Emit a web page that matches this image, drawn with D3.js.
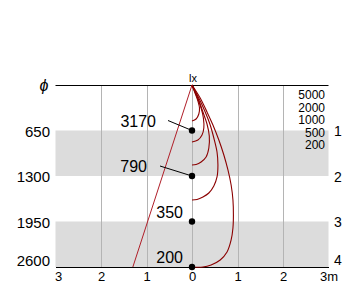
<!DOCTYPE html>
<html><head><meta charset="utf-8">
<script src="https://cdn.jsdelivr.net/npm/d3@7/dist/d3.min.js"></script>
<style>body{margin:0;background:#fff}svg{display:block;font-family:"Liberation Sans",Arial,sans-serif}</style>
</head><body><svg id="c" width="360" height="308"></svg>
<script>
// ---- data ----
const xTicks = [-3,-2,-1,0,1,2,3];
const xTickLabels = ["3","2","1","0","1","2","3m"];
const depthTicks = [650,1300,1950,2600];
const depthLabels = ["650","1300","1950","2600"];
const zoneLabels = ["1","2","3","4"];
const centerDepths = [650,1300,1950,2600];
const centerLux = [3170,790,350,200];
const luxLevels = [5000,2000,1000,500,200];
const coneEdge = [[0,0],[-1.3,2600]];
// isolux curves: [offset m, depth mm]
const curve5000 = [[0,0],[0.066,114],[0.13,229],[0.165,329],[0.15,414],[0.09,486],[0,514]];
const curve2000 = [[0,0],[0.11,171],[0.20,329],[0.25,471],[0.26,614],[0.22,714],[0.13,786],[0,814]];
const curve1000 = [[0,0],[0.13,186],[0.24,386],[0.33,557],[0.38,729],[0.37,900],[0.31,1029],[0.20,1100],[0.09,1136],[0,1143]];
const curve500 = [[0,0],[0.15,186],[0.29,386],[0.40,571],[0.48,757],[0.55,957],[0.57,1143],[0.55,1314],[0.48,1443],[0.37,1543],[0.24,1600],[0.11,1636],[0,1643]];
const curve200 = [[0,0],[0.18,186],[0.33,386],[0.46,571],[0.59,786],[0.70,1000],[0.79,1214],[0.86,1429],[0.90,1643],[0.91,1857],[0.90,2043],[0.86,2214],[0.77,2386],[0.62,2500],[0.42,2571],[0.24,2600],[0,2600]];
const curves = [curve5000,curve2000,curve1000,curve500,curve200];

// ---- chart ----
const svg = d3.select("#c");
const x = d3.scaleLinear().domain([-3,3]).range([55.5,328.5]);
const y = d3.scaleLinear().domain([0,2600]).range([85,267]);

// grey bands
const bands = [[650,1300],[1950,2600]];
svg.selectAll("rect.band").data(bands).enter().append("rect")
  .attr("x", x(-3)).attr("width", x(3)-x(-3))
  .attr("y", d=>y(d[0])).attr("height", d=>y(d[1])-y(d[0]))
  .attr("fill","#dcdcdc");

// vertical grid
svg.selectAll("line.grid").data(xTicks.filter(t=>Math.abs(t)<3)).enter().append("line")
  .attr("x1",d=>Math.round(x(d))+0.5).attr("x2",d=>Math.round(x(d))+0.5)
  .attr("y1",y(0)).attr("y2",y(2600))
  .attr("stroke","#b4b4b4").attr("stroke-width",1);

// top line
svg.append("line").attr("x1",x(-3)).attr("x2",x(3)).attr("y1",y(0)+0.5).attr("y2",y(0)+0.5)
  .attr("stroke","#000").attr("stroke-width",1);

// bottom axis
const ax = svg.append("g").attr("transform",`translate(0,${y(2600)})`)
  .call(d3.axisBottom(x).tickValues(xTicks).tickSize(0).tickPadding(5)
    .tickFormat((d,i)=>xTickLabels[i]));
ax.select(".domain").attr("stroke","#000");
ax.selectAll("text").attr("font-size",13).attr("fill","#000").attr("font-family","'Liberation Sans',Arial,sans-serif");
ax.selectAll(".tick").filter((d,i)=>i===0).select("text").attr("text-anchor","start").attr("x",-1);

// cone edge
const line = d3.line().x(d=>x(d[0])).y(d=>y(d[1]));
svg.append("path").attr("d",line(coneEdge)).attr("fill","none")
  .attr("stroke","#b01e28").attr("stroke-width",1);

// isolux curves
const cl = d3.line().x(d=>x(d[0])).y(d=>y(d[1])).curve(d3.curveCatmullRom.alpha(0.5));
svg.selectAll("path.iso").data(curves).enter().append("path")
  .attr("d",d=>cl(d)).attr("fill","none").attr("stroke","#8b0000").attr("stroke-width",1.1);

// left labels
svg.selectAll("text.dl").data(depthTicks).enter().append("text")
  .attr("x",50).attr("y",(d,i)=> i===3 ? y(d)-6 : y(d)+1)
  .attr("dy","0.35em").attr("text-anchor","end").attr("font-size",15)
  .text((d,i)=>depthLabels[i]);
svg.append("text").attr("x",44).attr("y",y(0)).attr("dy","0.35em")
  .attr("text-anchor","middle").attr("font-size",16).attr("font-style","italic").text("ϕ");
svg.append("text").attr("x",x(0)+1).attr("y",y(0)-3).attr("text-anchor","middle")
  .attr("font-size",11).text("lx");

// right zone labels
svg.selectAll("text.zl").data(depthTicks).enter().append("text")
  .attr("x",334).attr("y",(d,i)=> i===3 ? y(d)-7 : y(d)+1)
  .attr("dy","0.35em").attr("font-size",14).text((d,i)=>zoneLabels[i]);

// lux legend
svg.selectAll("text.lx").data(luxLevels).enter().append("text")
  .attr("x",325).attr("y",(d,i)=>95+i*12.5).attr("dy","0.35em")
  .attr("text-anchor","end").attr("font-size",12).text(d=>d);

// center points
svg.selectAll("circle.pt").data(centerDepths).enter().append("circle")
  .attr("cx",x(0)).attr("cy",d=>y(d)).attr("r",3.2).attr("fill","#000");

// leader lines for first two
const leaders = [[-24,-10],[-32,-10]];
leaders.forEach((o,i)=>{
  svg.append("line").attr("x1",x(0)+o[0]).attr("y1",y(centerDepths[i])+o[1])
    .attr("x2",x(0)).attr("y2",y(centerDepths[i])).attr("stroke","#000").attr("stroke-width",1);
});
const labelPos = [[-36,-9],[-45,-10],[-9,-9],[-9,-10]];
svg.selectAll("text.cv").data(centerLux).enter().append("text")
  .attr("x",(d,i)=>x(0)+labelPos[i][0]).attr("y",(d,i)=>y(centerDepths[i])+labelPos[i][1])
  .attr("dy","0.35em").attr("text-anchor","end").attr("font-size",16).text(d=>d);
</script></body></html>
